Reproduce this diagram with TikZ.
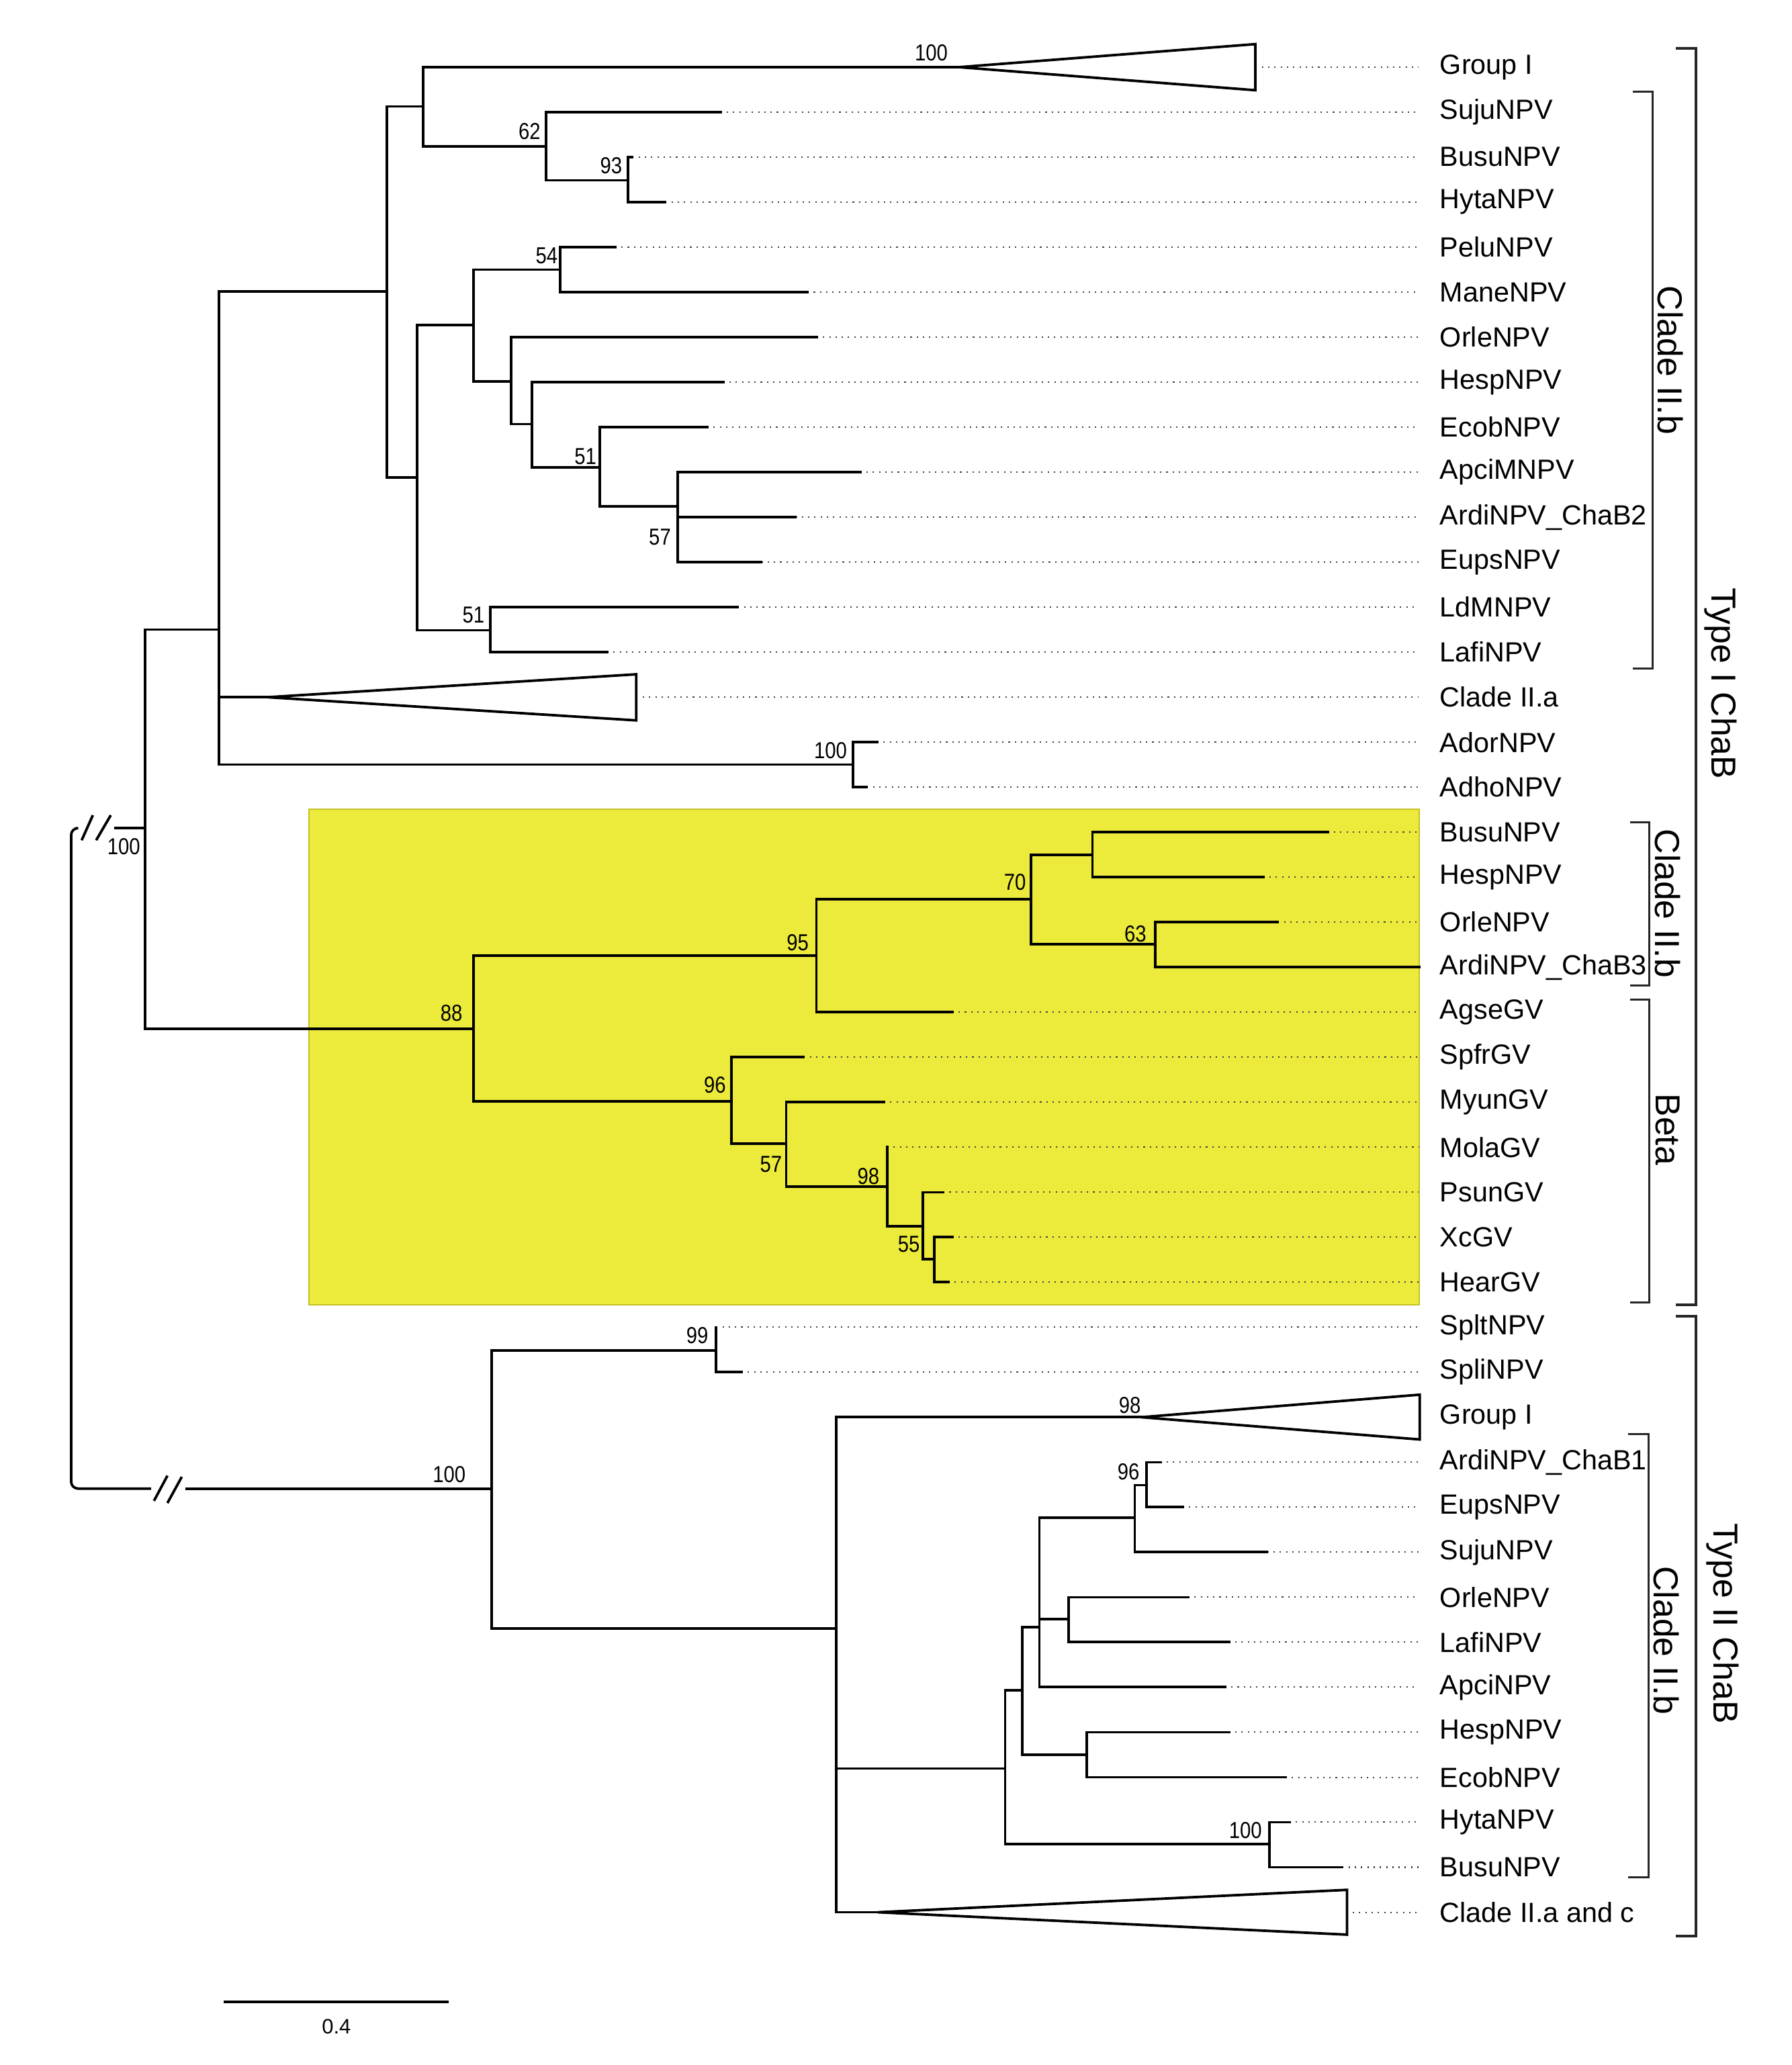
\documentclass[tikz,border=0pt]{standalone}
\usepackage{fontspec}
\setmainfont{Liberation Sans}
\definecolor{boxyellow}{RGB}{236,234,58}
\definecolor{boxedge}{RGB}{196,192,40}

\tikzset{
  branch/.style={line width=1.1pt, line cap=rect},
  leafdots/.style={draw=black!75, line width=0.6pt, dash pattern=on 0.6pt off 2.1pt, shorten >=0.2cm},
  leaf/.style={anchor=west, font=\fontsize{12}{14}\selectfont},
  boot/.style={font=\fontsize{10}{12}\selectfont, xscale=0.85, inner sep=0pt},
  cladelabel/.style={font=\fontsize{15}{18}\selectfont, rotate=-90, inner sep=0pt},
  brace/.style={line width=0.9pt, black!85},
  collapsed/.style={line width=1.1pt, fill=white, line join=miter}
}

\begin{document}
\begin{tikzpicture}[x=0.02cm, y=-0.02cm]
	\useasboundingbox (0,0) rectangle (1360,1568);

	% highlighted part
	\fill[boxyellow, draw=boxedge, line width=0.5pt] (234.5,614.6) rectangle (1077.5,990.8);

	% taxa
	\path (1087,51.0) node[leaf] (l0) {Group I}
		(1087,85.2) node[leaf] (l1) {SujuNPV}
		(1087,119.3) node[leaf] (l2) {BusuNPV}
		(1087,153.5) node[leaf] (l3) {HytaNPV}
		(1087,187.7) node[leaf] (l4) {PeluNPV}
		(1087,221.9) node[leaf] (l5) {ManeNPV}
		(1087,256.0) node[leaf] (l6) {OrleNPV}
		(1087,290.2) node[leaf] (l7) {HespNPV}
		(1087,324.4) node[leaf] (l8) {EcobNPV}
		(1087,358.5) node[leaf] (l9) {ApciMNPV}
		(1087,392.7) node[leaf] (l10) {ArdiNPV\_ChaB2}
		(1087,426.9) node[leaf] (l11) {EupsNPV}
		(1087,461.0) node[leaf] (l12) {LdMNPV}
		(1087,495.2) node[leaf] (l13) {LafiNPV}
		(1087,529.4) node[leaf] (l14) {Clade II.a}
		(1087,563.6) node[leaf] (l15) {AdorNPV}
		(1087,597.7) node[leaf] (l16) {AdhoNPV}
		(1087,631.9) node[leaf] (l17) {BusuNPV}
		(1087,666.1) node[leaf] (l18) {HespNPV}
		(1087,700.2) node[leaf] (l19) {OrleNPV}
		(1087,734.4) node[leaf] (l20) {ArdiNPV\_ChaB3}
		(1087,768.6) node[leaf] (l21) {AgseGV}
		(1087,802.7) node[leaf] (l22) {SpfrGV}
		(1087,836.9) node[leaf] (l23) {MyunGV}
		(1087,871.1) node[leaf] (l24) {MolaGV}
		(1087,905.3) node[leaf] (l25) {PsunGV}
		(1087,939.4) node[leaf] (l26) {XcGV}
		(1087,973.6) node[leaf] (l27) {HearGV}
		(1087,1007.8) node[leaf] (l28) {SpltNPV}
		(1087,1041.9) node[leaf] (l29) {SpliNPV}
		(1087,1076.1) node[leaf] (l30) {Group I}
		(1087,1110.3) node[leaf] (l31) {ArdiNPV\_ChaB1}
		(1087,1144.4) node[leaf] (l32) {EupsNPV}
		(1087,1178.6) node[leaf] (l33) {SujuNPV}
		(1087,1212.8) node[leaf] (l34) {OrleNPV}
		(1087,1246.9) node[leaf] (l35) {LafiNPV}
		(1087,1281.1) node[leaf] (l36) {ApciNPV}
		(1087,1315.3) node[leaf] (l37) {HespNPV}
		(1087,1349.5) node[leaf] (l38) {EcobNPV}
		(1087,1383.6) node[leaf] (l39) {HytaNPV}
		(1087,1417.8) node[leaf] (l40) {BusuNPV}
		(1087,1452.0) node[leaf] (l41) {Clade II.a and c};

	% branch tips
	\path (958,51.0) coordinate (t0)
		(547,85.2) coordinate (t1)
		(480,119.3) coordinate (t2)
		(505,153.5) coordinate (t3)
		(467,187.7) coordinate (t4)
		(613,221.9) coordinate (t5)
		(620,256.0) coordinate (t6)
		(549,290.2) coordinate (t7)
		(537,324.4) coordinate (t8)
		(653,358.5) coordinate (t9)
		(604,392.7) coordinate (t10)
		(578,426.9) coordinate (t11)
		(560,461.0) coordinate (t12)
		(461,495.2) coordinate (t13)
		(488,529.4) coordinate (t14)
		(666,563.6) coordinate (t15)
		(658,597.7) coordinate (t16)
		(1008,631.9) coordinate (t17)
		(959,666.1) coordinate (t18)
		(970,700.2) coordinate (t19)
		(1077.5,734.4) coordinate (t20)
		(723,768.6) coordinate (t21)
		(610,802.7) coordinate (t22)
		(671,836.9) coordinate (t23)
		(673.6,871.1) coordinate (t24)
		(716,905.3) coordinate (t25)
		(723,939.4) coordinate (t26)
		(720,973.6) coordinate (t27)
		(543.7,1007.8) coordinate (t28)
		(563,1041.9) coordinate (t29)
		(1077.5,1076.1) coordinate (t30)
		(881,1110.3) coordinate (t31)
		(898,1144.4) coordinate (t32)
		(962,1178.6) coordinate (t33)
		(902,1212.8) coordinate (t34)
		(933,1246.9) coordinate (t35)
		(930,1281.1) coordinate (t36)
		(933,1315.3) coordinate (t37)
		(976,1349.5) coordinate (t38)
		(979,1383.6) coordinate (t39)
		(1019,1417.8) coordinate (t40)
		(1027,1452.0) coordinate (t41);

	\foreach \i in {0,...,41}
		\draw[leafdots] (t\i) -- (t\i -| l\i.west);

	% inner nodes
	\path (110,628.8) coordinate (nR)
		(166.4,478) coordinate (nA)
		(293.6,221.2) coordinate (nB)
		(321.1,80.8) coordinate (nC)
		(728,51.0) coordinate (g1)
		(414.5,111.1) coordinate (n62)
		(476.8,136.9) coordinate (n93)
		(316.6,362.5) coordinate (nD)
		(359.5,247) coordinate (nE)
		(425.3,204.7) coordinate (n54)
		(388.1,289.5) coordinate (nF)
		(403.9,322) coordinate (nG)
		(455.3,354.8) coordinate (n51a)
		(514.7,384.4) coordinate (n57a)
		(372.4,478.6) coordinate (n51b)
		(203,529.4) coordinate (c2a)
		(647.4,580.5) coordinate (nAd)
		(359.6,781) coordinate (n88)
		(619.8,725.8) coordinate (n95)
		(782.9,682.6) coordinate (n70)
		(829.4,649.2) coordinate (nP)
		(876.9,717.1) coordinate (n63)
		(555.1,836.1) coordinate (n96a)
		(596.8,868.2) coordinate (n57b)
		(673.6,901.2) coordinate (n98a)
		(700.8,931.1) coordinate (nQ)
		(709.2,956.2) coordinate (n55)
		(373.1,1130.3) coordinate (n100c)
		(543.7,1025.3) coordinate (n99)
		(635,1236.7) coordinate (nH)
		(866.4,1076.1) coordinate (g2)
		(763.1,1342.8) coordinate (nI)
		(776.1,1283.4) coordinate (nJ)
		(789.1,1235.7) coordinate (nK)
		(861.5,1152.6) coordinate (nL)
		(870.6,1127.7) coordinate (n96b)
		(811.2,1229.3) coordinate (nM)
		(824.9,1332.3) coordinate (nN)
		(963.9,1400.4) coordinate (n100d)
		(666.5,1452.0) coordinate (c2ac);

	% Type I ChaB
	\draw[branch] (nR) |- (nA) (nR) |- (n88);
	\draw[branch] (nA) |- (nB) (nA) |- (c2a) (nA) |- (nAd);
	\draw[branch] (nB) |- (nC) (nB) |- (nD);
	\draw[branch] (nC) |- (g1) (nC) |- (n62);
	\draw[branch] (n62) |- (t1) (n62) |- (n93);
	\draw[branch] (n93) |- (t2) (n93) |- (t3);
	\draw[branch] (nD) |- (nE) (nD) |- (n51b);
	\draw[branch] (nE) |- (n54) (nE) |- (nF);
	\draw[branch] (n54) |- (t4) (n54) |- (t5);
	\draw[branch] (nF) |- (t6) (nF) |- (nG);
	\draw[branch] (nG) |- (t7) (nG) |- (n51a);
	\draw[branch] (n51a) |- (t8) (n51a) |- (n57a);
	\draw[branch] (n57a) |- (t9) (n57a) |- (t10) (n57a) |- (t11);
	\draw[branch] (n51b) |- (t12) (n51b) |- (t13);
	\draw[branch] (nAd) |- (t15) (nAd) |- (t16);
	% highlighted clade
	\draw[branch] (n88) |- (n95) (n88) |- (n96a);
	\draw[branch] (n95) |- (n70) (n95) |- (t21);
	\draw[branch] (n70) |- (nP) (n70) |- (n63);
	\draw[branch] (nP) |- (t17) (nP) |- (t18);
	\draw[branch] (n63) |- (t19) (n63) |- (t20);
	\draw[branch] (n96a) |- (t22) (n96a) |- (n57b);
	\draw[branch] (n57b) |- (t23) (n57b) |- (n98a);
	\draw[branch] (n98a) |- (t24) (n98a) |- (nQ);
	\draw[branch] (nQ) |- (t25) (nQ) |- (n55);
	\draw[branch] (n55) |- (t26) (n55) |- (t27);
	% Type II ChaB
	\draw[branch] (n100c) |- (n99) (n100c) |- (nH);
	\draw[branch] (n99) |- (t28) (n99) |- (t29);
	\draw[branch] (nH) |- (g2) (nH) |- (nI) (nH) |- (c2ac);
	\draw[branch] (nI) |- (nJ) (nI) |- (n100d);
	\draw[branch] (nJ) |- (nK) (nJ) |- (nN);
	\draw[branch] (nK) |- (nL) (nK) |- (nM) (nK) |- (t36);
	\draw[branch] (nL) |- (n96b) (nL) |- (t33);
	\draw[branch] (n96b) |- (t31) (n96b) |- (t32);
	\draw[branch] (nM) |- (t34) (nM) |- (t35);
	\draw[branch] (nN) |- (t37) (nN) |- (t38);
	\draw[branch] (n100d) |- (t39) (n100d) |- (t40);

	% collapsed clades
	\draw[collapsed] (g1) -- (953,33.5) -- (953,68.5) -- cycle;
	\draw[collapsed] (c2a) -- (483,512) -- (483,547) -- cycle;
	\draw[collapsed] (g2) -- (1077.8,1059) -- (1077.8,1093) -- cycle;
	\draw[collapsed] (c2ac) -- (1022.6,1435) -- (1022.6,1469) -- cycle;

	% root with cut branches
	\path (87.5,628.8) coordinate (cutA)
		(57.5,628.8) coordinate (cutB)
		(54,880) coordinate (root)
		(114.7,1130.3) coordinate (cutC)
		(141.9,1130.3) coordinate (cutD);
	\draw[branch] (cutA) -- (nR);
	\draw[branch, line cap=butt, rounded corners=3pt] (cutB) -| (root) |- (cutC);
	\draw[branch] (cutD) -- (n100c);
	\draw[branch, line cap=butt] (62,638) -- (70.5,619) (73,638) -- (84.1,619);
	\draw[branch, line cap=butt] (116.9,1139.6) -- (127.1,1120.5) (127.1,1141.3) -- (138,1121.4);

	% support values
	\path (707,40) node[boot] (b100a) {100}
		(402,100) node[boot] (b62) {62}
		(464,125.7) node[boot] (b93) {93}
		(415,194) node[boot] (b54) {54}
		(444.5,346.6) node[boot] (b51a) {51}
		(501,407.8) node[boot] (b57a) {57}
		(359.4,467) node[boot] (b51b) {51}
		(630.5,570) node[boot] (b100b) {100}
		(94,642.6) node[boot] (b100r) {100}
		(342.7,769.2) node[boot] (b88) {88}
		(605.6,715.6) node[boot] (b95) {95}
		(770.6,670) node[boot] (b70) {70}
		(861.9,709.3) node[boot] (b63) {63}
		(542.7,823.8) node[boot] (b96a) {96}
		(585.3,884.2) node[boot] (b57b) {57}
		(659.3,893) node[boot] (b98a) {98}
		(690,945) node[boot] (b55) {55}
		(529.4,1014.2) node[boot] (b99) {99}
		(341,1119.6) node[boot] (b100c) {100}
		(857.7,1066.9) node[boot] (b98b) {98}
		(856.7,1117.5) node[boot] (b96b) {96}
		(945.5,1389.6) node[boot] (b100d) {100};

	% groups
	\draw[brace] (1239.7,69.5) -- (1254.6,69.5) -- (1254.6,507.6) -- (1239.7,507.6);
	\draw[brace] (1237.5,624.4) -- (1252,624.4) -- (1252,748.4) -- (1237.5,748.4);
	\draw[brace] (1237.5,758.8) -- (1252,758.8) -- (1252,989) -- (1237.5,989);
	\draw[brace] (1236,1088.7) -- (1251.5,1088.7) -- (1251.5,1425.5) -- (1236,1425.5);
	\draw[brace, line width=1.2pt] (1272.3,36.5) -- (1287.4,36.5) -- (1287.4,990.8) -- (1272.3,990.8);
	\draw[brace, line width=1.2pt] (1272.3,999.3) -- (1287.4,999.3) -- (1287.4,1470.1) -- (1272.3,1470.1);
	\path (1268,273.6) node[cladelabel] (cb1) {Clade II.b}
		(1266,686) node[cladelabel] (cb2) {Clade II.b}
		(1266,857.6) node[cladelabel] (beta) {Beta}
		(1265,1245.8) node[cladelabel] (cb3) {Clade II.b}
		(1306.2,519.1) node[cladelabel] (type1) {Type I ChaB}
		(1308,1232.7) node[cladelabel] (type2) {Type II ChaB};

	% scale
	\path (169.9,1519.9) coordinate (sbL) (340.7,1519.9) coordinate (sbR);
	\draw[branch, line cap=butt] (sbL) -- (sbR);
	\node[font=\fontsize{9}{11}\selectfont, inner sep=0pt] (sblab) at (255.4,1539) {0.4};
\end{tikzpicture}
\end{document}
